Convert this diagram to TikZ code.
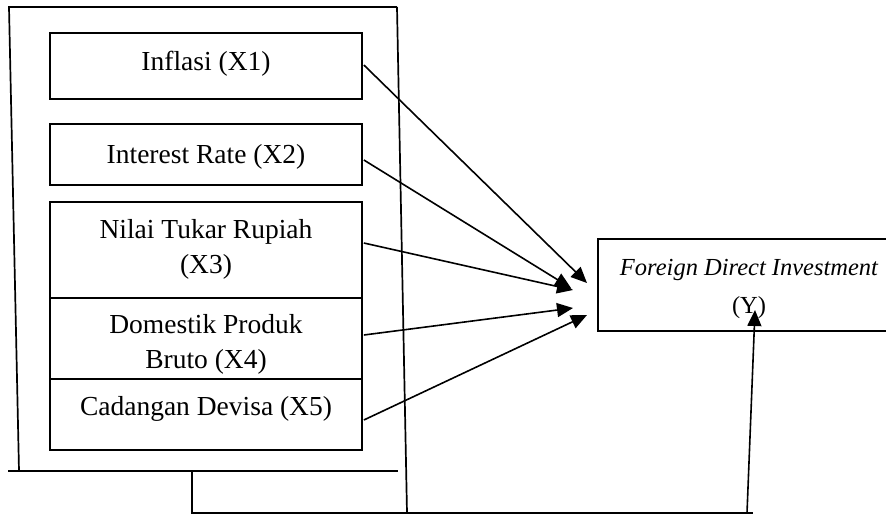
\documentclass[tikz,border=0pt]{standalone}
\usepackage{fontspec}
\setmainfont{Liberation Serif}
\usetikzlibrary{arrows.meta,calc}
\tikzset{
  box/.style={draw, line width=1.7pt, inner sep=0pt},
  lbl/.style={anchor=base, inner sep=0pt, font=\fontsize{27.5}{33}\selectfont},
  ilbl/.style={anchor=base, inner sep=0pt, font=\fontsize{24.5}{30}\selectfont\itshape},
  frame/.style={line width=1.7pt},
  arr/.style={line width=1.6pt, -{Triangle[length=16pt,width=14pt]}}
}
\begin{document}
\begin{tikzpicture}[x=1pt,y=-1pt]
\useasboundingbox (0,0) rectangle (886,515);
% outer frame
\draw[frame] (8,7) -- (397,7);
\draw[frame] (9,7) -- (19,471);
\draw[frame] (8,471) -- (398,471);
\draw[frame] (397,7) -- (407,513);
% inner boxes
\node[box, minimum width=312pt, minimum height=66pt] (b1) at (206,66) {};
\node[box, minimum width=312pt, minimum height=61pt] (b2) at (206,154.5) {};
\node[box, minimum width=312pt, minimum height=96pt] (b3) at (206,250) {};
\node[box, minimum width=312pt, minimum height=81pt] (b4) at (206,338.5) {};
\node[box, minimum width=312pt, minimum height=71pt] (b5) at (206,414.5) {};
% labels
\node[lbl] (t1) at (206,70) {Inflasi (X1)};
\node[lbl] (t2) at (206,163) {Interest Rate (X2)};
\node[lbl] (t3a) at (206,238) {Nilai Tukar Rupiah};
\node[lbl] (t3b) at (206,273) {(X3)};
\node[lbl] (t4a) at (206,333) {Domestik Produk};
\node[lbl] (t4b) at (206,368) {Bruto (X4)};
\node[lbl] (t5) at (206,415) {Cadangan Devisa (X5)};
% FDI box
\node[box, minimum width=294pt, minimum height=92pt] (y) at (745,285) {};
\node[ilbl] (ty1) at (749,275) {Foreign Direct Investment};
\node[lbl, font=\fontsize{24.5}{30}\selectfont] (ty2) at (749,313) {(Y)};
% arrow tips
\coordinate (e1) at (587,283);
\coordinate (e2) at (571,288);
\coordinate (e3) at (573,290);
\coordinate (e4) at (573,308);
\coordinate (e5) at (587,315);
\draw[arr] ($(b1.east)+(1,-1)$) -- (e1);
\draw[arr] ($(b2.east)+(1,5.5)$) -- (e2);
\draw[arr] ($(b3.east)+(1,-7)$) -- (e3);
\draw[arr] ($(b4.east)+(1,-3.5)$) -- (e4);
\draw[arr] ($(b5.east)+(1,5.5)$) -- (e5);
% bottom connector
\coordinate (c1) at (192,471);
\coordinate (c2) at (192,513);
\coordinate (c3) at (753,513);
\coordinate (c4) at (747,513);
\coordinate (c5) at (755,310);
\draw[frame] (c1) -- (c2) -- (c3);
\draw[arr] (c4) -- (c5);
\end{tikzpicture}
\end{document}
